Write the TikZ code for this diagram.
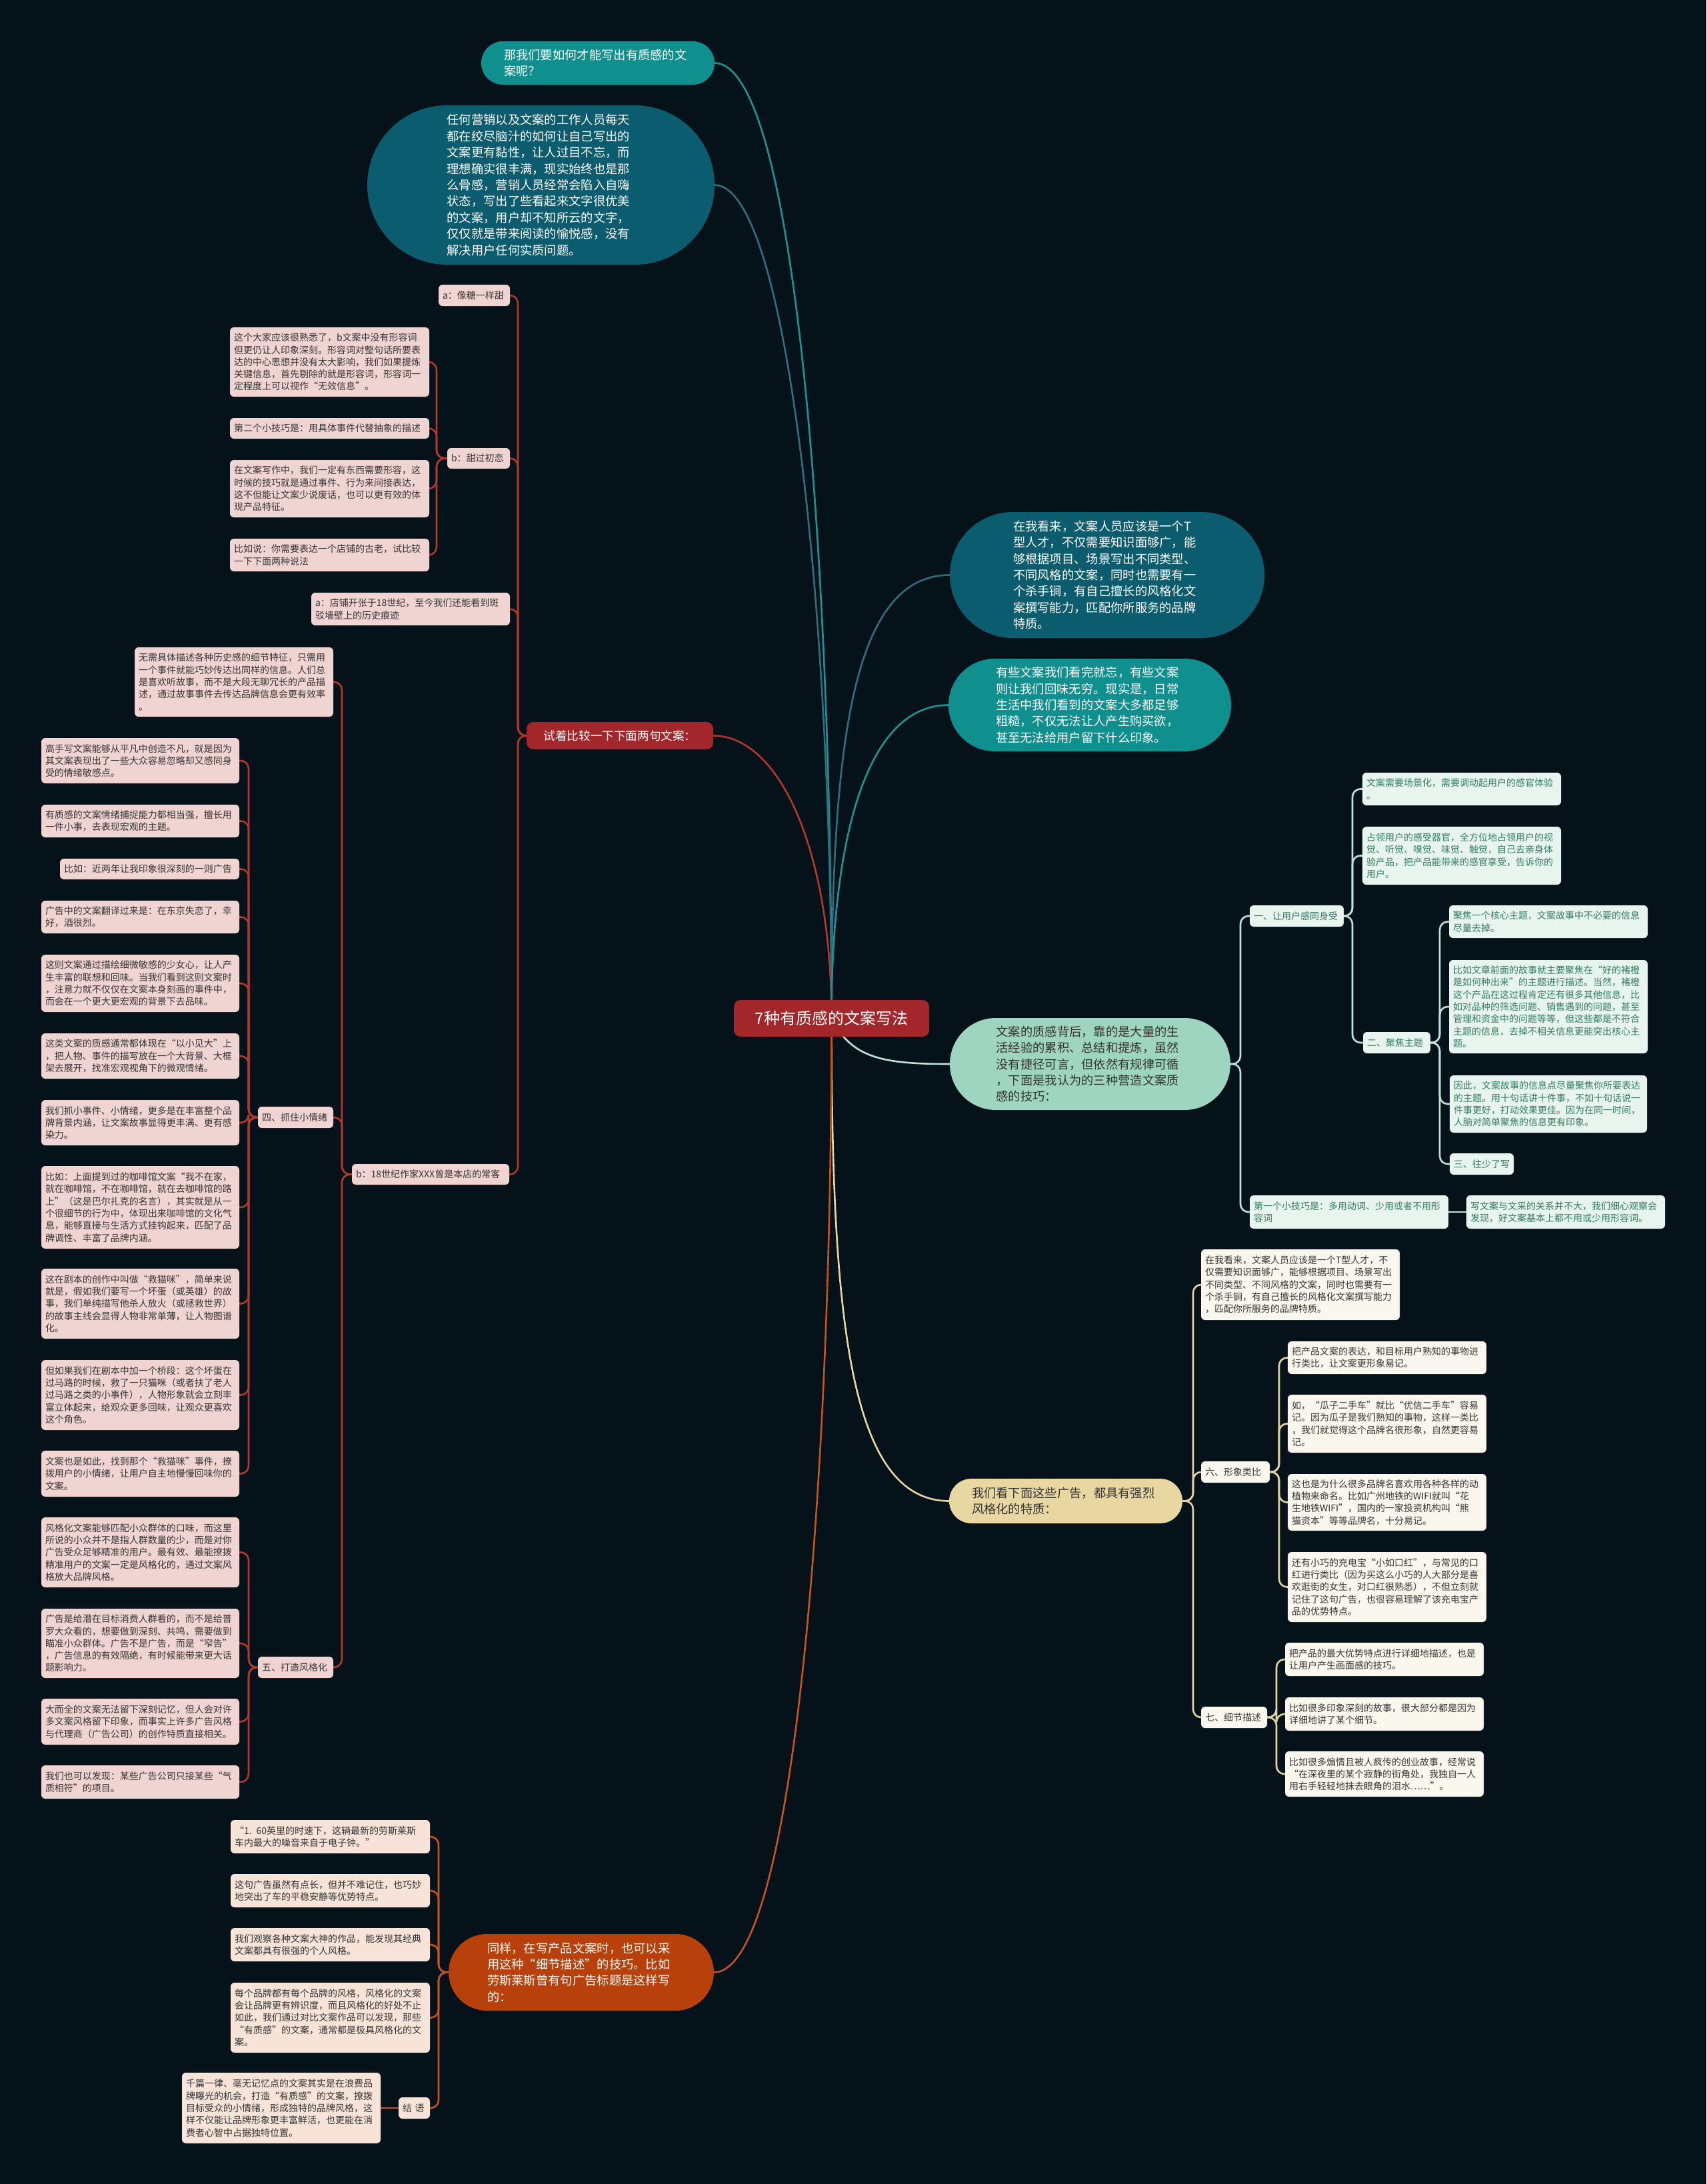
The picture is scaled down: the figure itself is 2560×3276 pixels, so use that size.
\documentclass[tikz,border=0pt]{standalone}
\usepackage{fontspec}
\setmainfont{Noto Sans CJK SC}
\usetikzlibrary{calc}
\definecolor{bgc}{HTML}{051219}
\definecolor{txt}{HTML}{333333}
\definecolor{pinkbox}{HTML}{F0D4D2}
\definecolor{peachbox}{HTML}{F7E3D8}
\definecolor{mintbox}{HTML}{E8F5EF}
\definecolor{mintxt}{HTML}{2F7A64}
\definecolor{creambox}{HTML}{FAF7EE}
\definecolor{tealA}{HTML}{108F8F}
\definecolor{tealB}{HTML}{0B5C6E}
\definecolor{mintA}{HTML}{9DD5C0}
\definecolor{beigeA}{HTML}{E8D7A0}
\definecolor{orangeA}{HTML}{B8400A}
\definecolor{redA}{HTML}{A3262A}
\definecolor{redL}{HTML}{B3372C}
\definecolor{orangeL}{HTML}{C5531C}
\definecolor{mintL}{HTML}{BDE5D7}
\definecolor{beigeL}{HTML}{E5D5A2}
\definecolor{tealL}{HTML}{1A9393}
\definecolor{tealD}{HTML}{2C6E80}
\pgfdeclarelayer{bgl}
\pgfsetlayers{bgl,main}
\newcommand\mbx[7]{%
  \pgfmathsetmacro\bw{(#5-#3)*0.5}%
  \pgfmathsetmacro\bh{(#6-#4)*0.5}%
  \pgfmathsetmacro\tw{(#5-#3-12)*0.5}%
  \node[#1,minimum width=\bw pt,minimum height=\bh pt,text width=\tw pt] (#2) at ({(#3+#5)/2},{(#4+#6)/2}) {#7};}
\newcommand\pbx[8]{%
  \pgfmathsetmacro\bw{(#5-#3)*0.5}%
  \pgfmathsetmacro\bh{(#6-#4)*0.5}%
  \pgfmathsetmacro\tw{#7*0.5}%
  \pgfmathsetmacro\rr{(#6-#4)*0.25}%
  \node[#1,minimum width=\bw pt,minimum height=\bh pt,text width=\tw pt,rounded corners=\rr pt] (#2) at ({(#3+#5)/2},{(#4+#6)/2}) {#8};}
\begin{document}
\begin{tikzpicture}[x=0.5pt,y=-0.5pt,
  every node/.style={inner sep=0pt,outer sep=0pt},
  sm/.style={font=\fontsize{7pt}{9.15pt}\selectfont,align=left,rounded corners=3pt,text=txt},
  pk/.style={sm,fill=pinkbox},
  pc/.style={sm,fill=peachbox},
  mt/.style={sm,fill=mintbox,text=mintxt},
  cr/.style={sm,fill=creambox},
  big/.style={font=\fontsize{9.15pt}{12.2pt}\selectfont,align=left},
  rc/.style={draw=redL,line width=1.3pt,rounded corners=6pt},
  oc/.style={draw=orangeL,line width=1.3pt,rounded corners=6pt},
  mc/.style={draw=mintL,line width=1.3pt,rounded corners=6pt},
  yc/.style={draw=beigeL,line width=1.3pt,rounded corners=6pt},
  rootc/.style={line width=1.3pt}]
\useasboundingbox (0,0) rectangle (2560,3276);

% root
\node[fill=redA,text=white,rounded corners=5pt,minimum width=146.5pt,minimum height=27.5pt,font=\fontsize{12pt}{14pt}\selectfont] (root) at (1247.5,1527.5) {7种有质感的文案写法};

% right upper
\pbx{big,fill=tealA,text=white}{R1}{722}{62}{1072}{127}{282}{那我们要如何才能写出有质感的文\\案呢？}
\pbx{big,fill=tealB,text=white}{R2}{551}{158}{1072}{397}{282}{任何营销以及文案的工作人员每天\\都在绞尽脑汁的如何让自己写出的\\文案更有黏性，让人过目不忘，而\\理想确实很丰满，现实始终也是那\\么骨感，营销人员经常会陷入自嗨\\状态，写出了些看起来文字很优美\\的文案，用户却不知所云的文字，\\仅仅就是带来阅读的愉悦感，没有\\解决用户任何实质问题。}
\pbx{big,fill=tealB,text=white}{R3}{1425}{768}{1897}{957}{282}{在我看来，文案人员应该是一个T\\型人才，不仅需要知识面够广，能\\够根据项目、场景写出不同类型、\\不同风格的文案，同时也需要有一\\个杀手锏，有自己擅长的风格化文\\案撰写能力，匹配你所服务的品牌\\特质。}
\pbx{big,fill=tealA,text=white}{R4}{1423}{988}{1847}{1127}{282}{有些文案我们看完就忘，有些文案\\则让我们回味无穷。现实是，日常\\生活中我们看到的文案大多都足够\\粗糙，不仅无法让人产生购买欲，\\甚至无法给用户留下什么印象。}
\pbx{big,fill=mintA,text=txt}{R5}{1425}{1527}{1846}{1665}{282}{文案的质感背后，靠的是大量的生\\活经验的累积、总结和提炼，虽然\\没有捷径可言，但依然有规律可循\\，下面是我认为的三种营造文案质\\感的技巧：}
\pbx{big,fill=beigeA,text=txt}{R6}{1424}{2218}{1774}{2285}{282}{我们看下面这些广告，都具有强烈\\风格化的特质：}
\pbx{big,fill=orangeA,text=white}{O}{673}{2901}{1071}{3016}{282}{同样，在写产品文案时，也可以采\\用这种“细节描述”的技巧。比如\\劳斯莱斯曾有句广告标题是这样写\\的：}
\node[fill=redA,text=white,rounded corners=5pt,minimum width=140pt,minimum height=20.5pt,font=\fontsize{8.8pt}{11pt}\selectfont] (S) at (930,1103.5) {试着比较一下下面两句文案：};

% mint group
\mbx{mt}{M1}{1875}{1358}{2016}{1390}{一、让用户感同身受}
\mbx{mt}{M2}{2044}{1159}{2342}{1208}{文案需要场景化，需要调动起用户的感官体验\\。}
\mbx{mt}{M3}{2044}{1240}{2342}{1327}{占领用户的感受器官，全方位地占领用户的视\\觉、听觉、嗅觉、味觉、触觉，自己去亲身体\\验产品，把产品能带来的感官享受，告诉你的\\用户。}
\mbx{mt}{M4}{2045}{1548}{2146}{1580}{二、聚焦主题}
\mbx{mt}{M5}{2174}{1358}{2472}{1407}{聚焦一个核心主题，文案故事中不必要的信息\\尽量去掉。}
\mbx{mt}{M6}{2174}{1440}{2472}{1580}{比如文章前面的故事就主要聚焦在“好的褚橙\\是如何种出来”的主题进行描述。当然，褚橙\\这个产品在这过程肯定还有很多其他信息，比\\如对品种的筛选问题、销售遇到的问题，甚至\\管理和资金中的问题等等，但这些都是不符合\\主题的信息，去掉不相关信息更能突出核心主\\题。}
\mbx{mt}{M7}{2175}{1613}{2471}{1699}{因此，文案故事的信息点尽量聚焦你所要表达\\的主题。用十句话讲十件事，不如十句话说一\\件事更好，打动效果更佳。因为在同一时间，\\人脑对简单聚焦的信息更有印象。}
\mbx{mt}{M8}{2175}{1730}{2271}{1762}{三、往少了写}
\mbx{mt}{M9}{1875}{1793}{2173}{1843}{第一个小技巧是：多用动词、少用或者不用形\\容词}
\mbx{mt}{M10}{2200}{1793}{2498}{1843}{写文案与文采的关系并不大，我们细心观察会\\发现，好文案基本上都不用或少用形容词。}

% cream group
\mbx{cr}{K1}{1802}{1874}{2100}{1980}{在我看来，文案人员应该是一个T型人才，不\\仅需要知识面够广，能够根据项目、场景写出\\不同类型、不同风格的文案，同时也需要有一\\个杀手锏，有自己擅长的风格化文案撰写能力\\，匹配你所服务的品牌特质。}
\mbx{cr}{L6}{1802}{2192}{1905}{2224}{六、形象类比}
\mbx{cr}{K2}{1932}{2012}{2230}{2061}{把产品文案的表达，和目标用户熟知的事物进\\行类比，让文案更形象易记。}
\mbx{cr}{K3}{1932}{2092}{2230}{2179}{如，“瓜子二手车”就比“优信二手车”容易\\记。因为瓜子是我们熟知的事物，这样一类比\\，我们就觉得这个品牌名很形象，自然更容易\\记。}
\mbx{cr}{K4}{1932}{2211}{2230}{2296}{这也是为什么很多品牌名喜欢用各种各样的动\\植物来命名。比如广州地铁的WIFI就叫“花\\生地铁WIFI”，国内的一家投资机构叫“熊\\猫资本”等等品牌名，十分易记。}
\mbx{cr}{K5}{1932}{2328}{2230}{2433}{还有小巧的充电宝“小如口红”，与常见的口\\红进行类比（因为买这么小巧的人大部分是喜\\欢逛街的女生，对口红很熟悉），不但立刻就\\记住了这句广告，也很容易理解了该充电宝产\\品的优势特点。}
\mbx{cr}{L7}{1802}{2560}{1901}{2592}{七、细节描述}
\mbx{cr}{K6}{1928}{2464}{2226}{2514}{把产品的最大优势特点进行详细地描述，也是\\让用户产生画面感的技巧。}
\mbx{cr}{K7}{1928}{2546}{2226}{2596}{比如很多印象深刻的故事，很大部分都是因为\\详细地讲了某个细节。}
\mbx{cr}{K8}{1928}{2627}{2226}{2695}{比如很多煽情且被人疯传的创业故事，经常说\\“在深夜里的某个寂静的街角处，我独自一人\\用右手轻轻地抹去眼角的泪水……”。}

% orange group
\mbx{pc}{G1}{346}{2730}{645}{2780}{“1. 60英里的时速下，这辆最新的劳斯莱斯\\车内最大的噪音来自于电子钟。”}
\mbx{pc}{G2}{346}{2811}{645}{2861}{这句广告虽然有点长，但并不难记住，也巧妙\\地突出了车的平稳安静等优势特点。}
\mbx{pc}{G3}{346}{2892}{645}{2942}{我们观察各种文案大神的作品，能发现其经典\\文案都具有很强的个人风格。}
\mbx{pc}{G4}{346}{2974}{645}{3079}{每个品牌都有每个品牌的风格，风格化的文案\\会让品牌更有辨识度，而且风格化的好处不止\\如此，我们通过对比文案作品可以发现，那些\\“有质感”的文案，通常都是极具风格化的文\\案。}
\mbx{pc}{JY}{598}{3146}{645}{3178}{结 语}
\mbx{pc}{G5}{273}{3109}{571}{3215}{千篇一律、毫无记忆点的文案其实是在浪费品\\牌曝光的机会，打造“有质感”的文案，撩拨\\目标受众的小情绪，形成独特的品牌风格，这\\样不仅能让品牌形象更丰富鲜活，也更能在消\\费者心智中占据独特位置。}

% red group
\mbx{pk}{A1}{658}{427}{765}{459}{a：像糖一样甜}
\mbx{pk}{B1}{671}{672}{765}{703}{b：甜过初恋}
\mbx{pk}{C1}{345}{491}{644}{595}{这个大家应该很熟悉了，b文案中没有形容词\\但更仍让人印象深刻。形容词对整句话所要表\\达的中心思想并没有太大影响，我们如果提炼\\关键信息，首先剔除的就是形容词，形容词一\\定程度上可以视作“无效信息”。}
\mbx{pk}{C2}{345}{627}{644}{658}{第二个小技巧是：用具体事件代替抽象的描述}
\mbx{pk}{C3}{345}{690}{644}{776}{在文案写作中，我们一定有东西需要形容，这\\时候的技巧就是通过事件、行为来间接表达，\\这不但能让文案少说废话，也可以更有效的体\\现产品特征。}
\mbx{pk}{C4}{345}{808}{644}{857}{比如说：你需要表达一个店铺的古老，试比较\\一下下面两种说法}
\mbx{pk}{A2}{467}{889}{765}{938}{a：店铺开张于18世纪，至今我们还能看到斑\\驳墙壁上的历史痕迹}
\mbx{pk}{B2}{528}{1746}{764}{1777}{b：18世纪作家XXX曾是本店的常客}
\mbx{pk}{D1}{202}{971}{500}{1075}{无需具体描述各种历史感的细节特征，只需用\\一个事件就能巧妙传达出同样的信息。人们总\\是喜欢听故事，而不是大段无聊冗长的产品描\\述，通过故事事件去传达品牌信息会更有效率\\。}
\mbx{pk}{Si}{387}{1660}{500}{1692}{四、抓住小情绪}
\mbx{pk}{Wu}{387}{2485}{500}{2517}{五、打造风格化}
\mbx{pk}{E1}{62}{1107}{359}{1175}{高手写文案能够从平凡中创造不凡，就是因为\\其文案表现出了一些大众容易忽略却又感同身\\受的情绪敏感点。}
\mbx{pk}{E2}{62}{1207}{359}{1256}{有质感的文案情绪捕捉能力都相当强，擅长用\\一件小事，去表现宏观的主题。}
\mbx{pk}{E3}{90}{1288}{359}{1319}{比如：近两年让我印象很深刻的一则广告}
\mbx{pk}{E4}{62}{1351}{359}{1400}{广告中的文案翻译过来是：在东京失恋了，幸\\好，酒很烈。}
\mbx{pk}{E5}{62}{1432}{359}{1518}{这则文案通过描绘细微敏感的少女心，让人产\\生丰富的联想和回味。当我们看到这则文案时\\，注意力就不仅仅在文案本身刻画的事件中，\\而会在一个更大更宏观的背景下去品味。}
\mbx{pk}{E6}{62}{1550}{359}{1618}{这类文案的质感通常都体现在“以小见大”上\\，把人物、事件的描写放在一个大背景、大框\\架去展开，找准宏观视角下的微观情绪。}
\mbx{pk}{E7}{62}{1650}{359}{1718}{我们抓小事件、小情绪，更多是在丰富整个品\\牌背景内涵，让文案故事显得更丰满、更有感\\染力。}
\mbx{pk}{E8}{62}{1749}{359}{1873}{比如：上面提到过的咖啡馆文案“我不在家，\\就在咖啡馆，不在咖啡馆，就在去咖啡馆的路\\上”（这是巴尔扎克的名言），其实就是从一\\个很细节的行为中，体现出来咖啡馆的文化气\\息，能够直接与生活方式挂钩起来，匹配了品\\牌调性、丰富了品牌内涵。}
\mbx{pk}{E9}{62}{1903}{359}{2008}{这在剧本的创作中叫做“救猫咪”，简单来说\\就是，假如我们要写一个坏蛋（或英雄）的故\\事，我们单纯描写他杀人放火（或拯救世界）\\的故事主线会显得人物非常单薄，让人物图谱\\化。}
\mbx{pk}{E10}{62}{2040}{359}{2145}{但如果我们在剧本中加一个桥段：这个坏蛋在\\过马路的时候，救了一只猫咪（或者扶了老人\\过马路之类的小事件），人物形象就会立刻丰\\富立体起来，给观众更多回味，让观众更喜欢\\这个角色。}
\mbx{pk}{E11}{62}{2176}{359}{2245}{文案也是如此，找到那个“救猫咪”事件，撩\\拨用户的小情绪，让用户自主地慢慢回味你的\\文案。}
\mbx{pk}{F1}{62}{2276}{359}{2381}{风格化文案能够匹配小众群体的口味，而这里\\所说的小众并不是指人群数量的少，而是对你\\广告受众足够精准的用户。最有效、最能撩拨\\精准用户的文案一定是风格化的，通过文案风\\格放大品牌风格。}
\mbx{pk}{F2}{62}{2413}{359}{2517}{广告是给潜在目标消费人群看的，而不是给普\\罗大众看的，想要做到深刻、共鸣，需要做到\\瞄准小众群体。广告不是广告，而是“窄告”\\，广告信息的有效隔绝，有时候能带来更大话\\题影响力。}
\mbx{pk}{F3}{62}{2548}{359}{2617}{大而全的文案无法留下深刻记忆，但人会对许\\多文案风格留下印象，而事实上许多广告风格\\与代理商（广告公司）的创作特质直接相关。}
\mbx{pk}{F4}{62}{2648}{359}{2698}{我们也可以发现：某些广告公司只接某些“气\\质相符”的项目。}

\begin{pgfonlayer}{bgl}
\fill[bgc] (0,0) rectangle (2560,3276);
% root level curves
\draw[rootc,draw=tealL] (R1.east) .. controls +(120,0) and +(0,-700) .. (root.center);
\draw[rootc,draw=tealD] (R2.east) .. controls +(110,0) and +(0,-600) .. (root.center);
\draw[rootc,draw=redL] (S.east) .. controls +(100,0) and +(0,-250) .. (root.center);
\draw[rootc,draw=tealD] (root.center) .. controls +(0,-400) and +(-150,0) .. (R3.west);
\draw[rootc,draw=tealL] (root.center) .. controls +(0,-280) and +(-120,0) .. (R4.west);
\draw[rootc,draw=mintL] (root.center) .. controls +(30,60) and +(-100,0) .. (R5.west);
\draw[rootc,draw=beigeL] (root.center) .. controls +(0,450) and +(-150,0) .. (R6.west);
\draw[rootc,draw=orangeL] (O.east) .. controls +(120,0) and +(0,700) .. (root.center);
% red group
\foreach \c in {A1,B1,A2,B2} \draw[rc] (S.west) -- ++(-13,0) |- (\c.east);
\foreach \c in {C1,C2,C3,C4} \draw[rc] (B1.west) -- ++(-16,0) |- (\c.east);
\foreach \c in {D1,Si,Wu} \draw[rc] (B2.west) -- ++(-15,0) |- (\c.east);
\foreach \c in {E1,E2,E3,E4,E5,E6,E7,E8,E9,E10,E11} \draw[rc] (Si.west) -- ++(-14,0) |- (\c.east);
\foreach \c in {F1,F2,F3,F4} \draw[rc] (Wu.west) -- ++(-14,0) |- (\c.east);
% orange group
\foreach \c in {G1,G2,G3,G4,JY} \draw[oc] (O.west) -- ++(-15,0) |- (\c.east);
\draw[oc] (JY.west) -- (G5.east);
% mint group
\foreach \c in {M1,M9} \draw[mc] (R5.east) -- ++(15,0) |- (\c.west);
\foreach \c in {M2,M3,M4} \draw[mc] (M1.east) -- ++(13,0) |- (\c.west);
\foreach \c in {M5,M6,M7,M8} \draw[mc] (M4.east) -- ++(14,0) |- (\c.west);
\draw[mc] (M9.east) -- (M10.west);
% cream group
\foreach \c in {K1,L6,L7} \draw[yc] (R6.east) -- ++(16,0) |- (\c.west);
\foreach \c in {K2,K3,K4,K5} \draw[yc] (L6.east) -- ++(14,0) |- (\c.west);
\foreach \c in {K6,K7,K8} \draw[yc] (L7.east) -- ++(14,0) |- (\c.west);
\end{pgfonlayer}
\end{tikzpicture}
\end{document}
